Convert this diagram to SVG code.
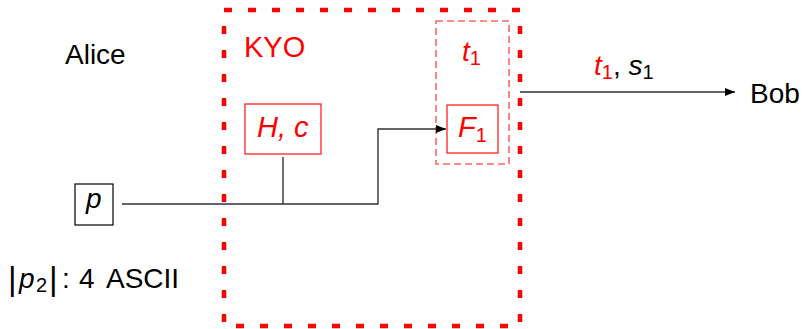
<svg xmlns="http://www.w3.org/2000/svg" width="803" height="329" viewBox="0 0 803 329">
<style>
text{font-family:"Liberation Sans",Arial,sans-serif;font-size:28px;fill:#000}
.m{font-style:italic}
.r{fill:#ff0000}
.sub{font-size:20px;font-style:normal}
.bar{font-size:33px}
.conn{fill:none;stroke:#333;stroke-width:1.4}
</style>
<defs>
<marker id="ah" viewBox="0 0 10 8" refX="10" refY="4" markerWidth="10" markerHeight="8" markerUnits="userSpaceOnUse" orient="auto">
<path d="M0,0 L10,4 L0,8 Z" fill="#000"/>
</marker>
</defs>
<rect width="803" height="329" fill="#fff"/>
<g id="kyo">
<rect x="224" y="10" width="296" height="316" fill="none" stroke="#ff0000" stroke-width="4.5" stroke-dasharray="8 16"/>
<text x="244" y="57" class="r" style="font-size:29px">KYO</text>
</g>
<g id="t1box">
<rect x="436" y="21" width="73" height="143" fill="none" stroke="#ff6666" stroke-width="1.6" stroke-dasharray="7 4"/>
<text x="462" y="61" class="r m">t<tspan class="sub" dy="4">1</tspan></text>
</g>
<g id="alice"><text x="65" y="64">Alice</text></g>
<g id="bob"><text x="750" y="103">Bob</text></g>
<g id="p">
<rect x="75" y="184" width="38" height="41" fill="none" stroke="#000" stroke-width="1.2"/>
<text x="86" y="208" class="m">p</text>
</g>
<g id="hc">
<rect x="245" y="104" width="76" height="50" fill="none" stroke="#ff2222" stroke-width="1.3"/>
<text x="257" y="137" class="r m" style="font-size:29px">H, c</text>
</g>
<g id="f1">
<rect x="447" y="105" width="51" height="48" fill="none" stroke="#ff2222" stroke-width="1.3"/>
<text x="458" y="137" class="r m" style="font-size:29px">F<tspan class="sub" dy="5">1</tspan></text>
</g>
<g id="p2label">
<text x="8" y="290"><tspan class="bar">|</tspan><tspan class="m" x="19" dy="-2">p</tspan><tspan class="sub" x="36" dy="4">2</tspan><tspan class="bar" x="49" dy="-2">|</tspan><tspan x="62" dy="-2">:</tspan><tspan x="79">4</tspan><tspan x="106">ASCII</tspan></text>
</g>
<g id="connectors">
<path class="conn" d="M122,204 H378 V129 H446" marker-end="url(#ah)"/>
<path class="conn" d="M283,157 V204"/>
<path class="conn" d="M520,92 H735" marker-end="url(#ah)"/>
<text x="594" y="75"><tspan class="r m">t</tspan><tspan class="r sub" dy="4">1</tspan><tspan dy="-4">, </tspan><tspan class="m">s</tspan><tspan class="sub" dy="4">1</tspan></text>
</g>
</svg>
